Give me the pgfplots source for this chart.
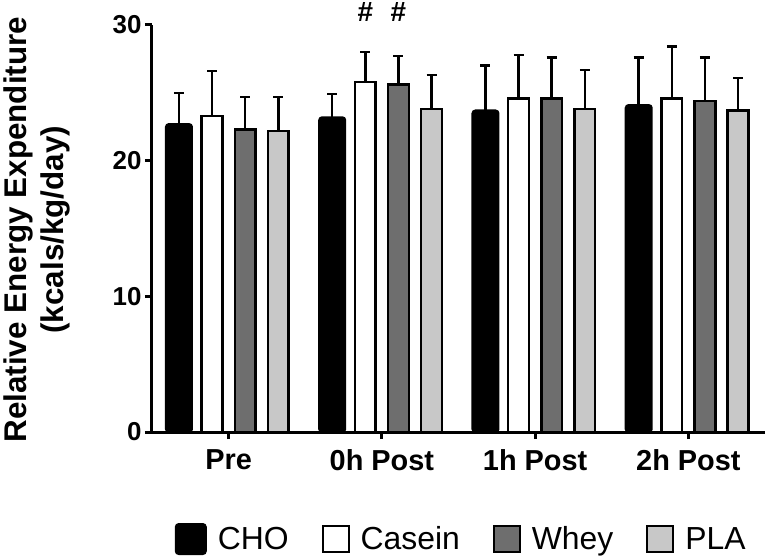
\documentclass[border=0pt]{standalone}
\usepackage{pgfplots}
\pgfplotsset{compat=1.18}
\usepackage{fontspec}
\setmainfont{Liberation Sans}
\definecolor{wheyc}{HTML}{6E6E6E}
\definecolor{plac}{HTML}{C8C8C8}
\begin{document}
\begin{tikzpicture}
\useasboundingbox (-152bp,-126bp) rectangle (618bp,432bp);
\begin{axis}[
  at={(0,0)}, anchor=south west,
  scale only axis, width=613bp, height=407bp,
  ybar,
  xmin=-0.5, xmax=3.5, ymin=0, ymax=30,
  axis lines*=left,
  axis line style={line width=3bp, -},
  clip=false,
  xtick={0,1,2,3},
  xticklabels={Pre,0h Post,1h Post,2h Post},
  ytick={0,10,20,30},
  tick align=outside,
  major tick length=7bp,
  tick style={line width=3bp, black},
  x tick label style={font=\bfseries\fontsize{29}{29}\selectfont, yshift=-7bp},
  y tick label style={font=\bfseries\fontsize{26}{26}\selectfont},
  /pgf/number format/assume math mode=true,
  ylabel={Relative Energy Expenditure\\(kcals/kg/day)},
  ylabel style={align=center, font=\bfseries\fontsize{31.5}{37}\selectfont,
    at={(axis description cs:-0.187,0.497)}, anchor=center},
  legend style={at={(axis description cs:0.032,-0.263)}, anchor=west,
    draw=none, fill=none, legend columns=4,
    font=\fontsize{32}{32}\selectfont,
    /tikz/every even column/.append style={column sep=31bp},
    /tikz/every odd column/.append style={column sep=9bp}},
  legend cell align=left,
  error bars/y dir=plus, error bars/y explicit,
  error bars/error bar style={line width=2.5bp, black},
  error bars/error mark options={line width=2.5bp, black, mark size=5bp, rotate=90},
]
\addplot[fill=black, draw=black, line width=2bp, bar width=0.17, bar shift=-0.324, rounded corners=3bp,
  legend image code/.code={\draw[fill=black, draw=black, line width=2bp, rounded corners=3bp] (0bp,-15bp) rectangle (30bp,15bp);}]
  coordinates {(0,22.7) +- (0,2.3) (1,23.2) +- (0,1.7) (2,23.7) +- (0,3.3) (3,24.1) +- (0,3.5)};
\addplot[fill=white, draw=black, line width=2.5bp, bar width=0.135, bar shift=-0.108,
  legend image code/.code={\draw[fill=white, draw=black, line width=2bp] (0bp,-13bp) rectangle (26bp,13bp);}]
  coordinates {(0,23.3) +- (0,3.3) (1,25.8) +- (0,2.2) (2,24.6) +- (0,3.2) (3,24.6) +- (0,3.8)};
\addplot[fill=wheyc, draw=black, line width=2.5bp, bar width=0.135, bar shift=0.108,
  legend image code/.code={\draw[fill=wheyc, draw=black, line width=2bp] (0bp,-13bp) rectangle (26bp,13bp);}]
  coordinates {(0,22.3) +- (0,2.4) (1,25.6) +- (0,2.1) (2,24.6) +- (0,3.0) (3,24.4) +- (0,3.2)};
\addplot[fill=plac, draw=black, line width=2.5bp, bar width=0.135, bar shift=0.324,
  legend image code/.code={\draw[fill=plac, draw=black, line width=2bp] (0bp,-13bp) rectangle (26bp,13bp);}]
  coordinates {(0,22.2) +- (0,2.5) (1,23.8) +- (0,2.5) (2,23.8) +- (0,2.9) (3,23.7) +- (0,2.4)};
\legend{CHO,Casein,Whey,PLA}
\node[font=\bfseries\fontsize{28}{28}\selectfont] at (axis cs:0.892,30.95) {\#};
\node[font=\bfseries\fontsize{28}{28}\selectfont] at (axis cs:1.108,30.95) {\#};
\end{axis}
\end{tikzpicture}
\end{document}
